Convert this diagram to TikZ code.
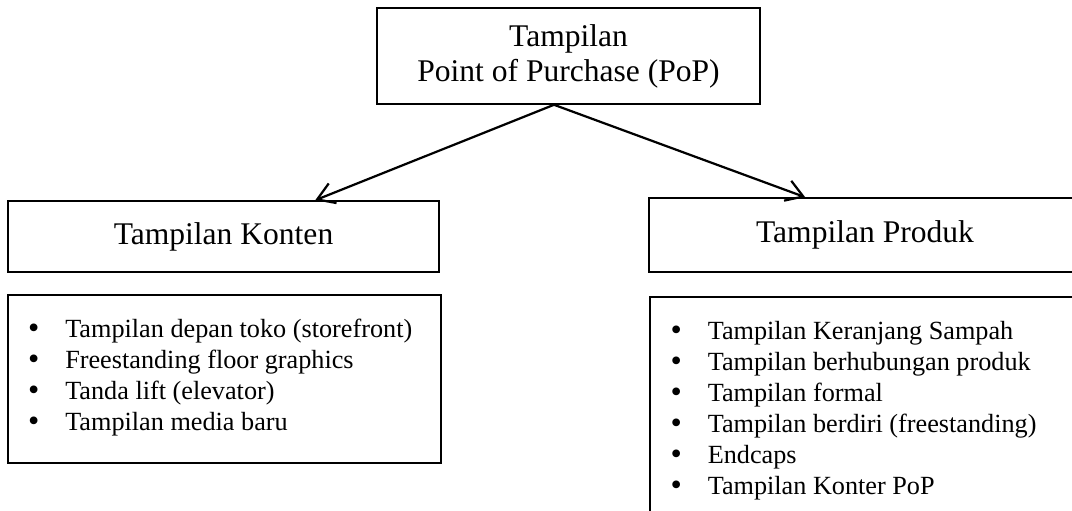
\documentclass[tikz,border=0pt]{standalone}
\usepackage{fontspec}
\setmainfont{Liberation Serif}
\usetikzlibrary{arrows.meta,calc}
\newcommand{\itm}[1]{\makebox[16.7pt][l]{\fontsize{14.5}{13.95}\selectfont\raisebox{-0.4pt}{\textbullet}}#1}
\begin{document}
\begin{tikzpicture}[x=0.45pt,y=-0.45pt,
  box/.style={draw,line width=0.7pt,rectangle,inner sep=0pt},
  head/.style={font=\fontsize{14.2}{15.75}\selectfont,align=center},
  lst/.style={font=\fontsize{11.8}{13.95}\selectfont,align=left,anchor=base west,inner sep=0pt},
  arr/.style={line width=1pt,-{Straight Barb[length=7.5pt,width=9.5pt,line width=1pt]}}]
\useasboundingbox (0,0) rectangle (1072,510);
\clip (0,0) rectangle (1072,510);
% heading boxes
\node[box,head,minimum width=172.35pt,minimum height=43.2pt] (pop) at (568.5,56) {Tampilan\\Point of Purchase (PoP)};
\node[box,head,minimum width=193.95pt,minimum height=31.95pt] (konten) at (223.5,236.5) {Tampilan Konten};
\node[box,head,minimum width=194.4pt,minimum height=33.3pt] (produk) at (865,235) {Tampilan Produk};
% list boxes
\node[box,minimum width=194.85pt,minimum height=75.6pt] (klist) at (224.5,379) {};
\node[box,minimum width=193.95pt,minimum height=104.85pt] (plist) at (865.5,413.5) {};
% the base anchor of a multi-line node is the baseline of its last line
\node[lst] (kitems) at ($(klist.north west)+(20.5,136)$) {\itm{Tampilan depan toko (storefront)}\\
\itm{Freestanding floor graphics}\\
\itm{Tanda lift (elevator)}\\
\itm{Tampilan media baru}};
\node[lst] (pitems) at ($(plist.north west)+(21,198)$) {\itm{Tampilan Keranjang Sampah}\\
\itm{Tampilan berhubungan produk}\\
\itm{Tampilan formal}\\
\itm{Tampilan berdiri (freestanding)}\\
\itm{Endcaps}\\
\itm{Tampilan Konter PoP}};
% connectors
\coordinate (apex) at ($(pop.south)+(-14.5,0)$);
\coordinate (ktip) at ($(konten.north west)+(308,0)$);
\coordinate (ptip) at ($(produk.north west)+(157,0)$);
\draw[arr] (apex) -- (ktip);
\draw[arr] (apex) -- (ptip);
\end{tikzpicture}
\end{document}
